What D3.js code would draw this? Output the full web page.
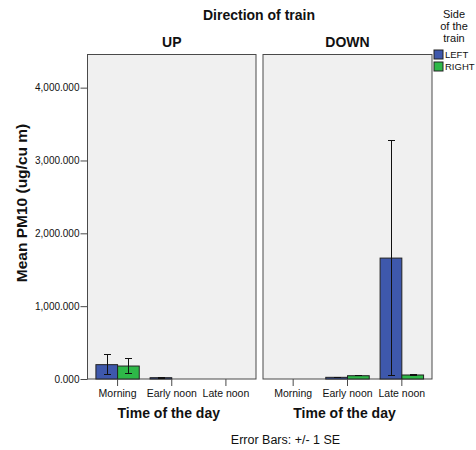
<!DOCTYPE html>
<html>
<head>
<meta charset="utf-8">
<script src="https://cdn.jsdelivr.net/npm/d3@7"></script>
<style>
  body { margin: 0; background: #fff; }
  text { font-family: "Liberation Sans", Arial, sans-serif; fill: #111; }
</style>
</head>
<body>
<svg id="chart" width="476" height="450"></svg>
<script>
// Mean PM10 by time of day, panelled by direction of train, bars by side of train
const directions = ["UP", "DOWN"];
const times = ["Morning", "Early noon", "Late noon"];
const sides = ["LEFT", "RIGHT"];
const sideColors = ["#3e58ac", "#2eb848"];

// means per direction, rows = times, columns = sides (null = no data)
const meanUp   = [[197, 178], [18, null], [null, null]];
const meanDown = [[null, null], [23, 45], [1660, 55]];
// standard errors (error bars are +/- 1 SE)
const seUp   = [[140, 108], [2, null], [null, null]];
const seDown = [[null, null], [3, 4], [1625, 8]];

const yTicks = [0, 1000, 2000, 3000, 4000];

const svg = d3.select("#chart");
const plotTop = 54.5, plotBottom = 379;
const panels = [
  { name: directions[0], x0: 87.5, x1: 256, means: meanUp, ses: seUp },
  { name: directions[1], x0: 263, x1: 432, means: meanDown, ses: seDown }
];

const y = d3.scaleLinear().domain([0, 4455]).range([plotBottom, plotTop]);

// overall title
svg.append("text").attr("x", 259).attr("y", 20).attr("text-anchor", "middle")
  .attr("font-size", 14).attr("font-weight", "bold").text("Direction of train");

panels.forEach(p => {
  const g = svg.append("g");
  g.append("rect").attr("x", p.x0).attr("y", plotTop).attr("width", p.x1 - p.x0)
    .attr("height", plotBottom - plotTop).attr("fill", "#f0f0f0")
    .attr("stroke", "#4a4a4a").attr("stroke-width", 1);

  const x = d3.scaleBand().domain(times).range([p.x0 + 3, p.x1 - 3]).paddingInner(0.2).paddingOuter(0.1);
  const xs = d3.scaleBand().domain(sides).range([0, x.bandwidth()]);

  // panel header
  g.append("text").attr("x", (p.x0 + p.x1) / 2).attr("y", 47).attr("text-anchor", "middle")
    .attr("font-size", 14).attr("font-weight", "bold").text(p.name);

  // bars and error bars
  times.forEach((t, i) => {
    sides.forEach((s, j) => {
      const m = p.means[i][j];
      if (m === null) return;
      const bx = x(t) + xs(s);
      g.append("rect").attr("x", bx).attr("y", y(m)).attr("width", xs.bandwidth())
        .attr("height", plotBottom - y(m)).attr("fill", sideColors[j])
        .attr("stroke", "#222").attr("stroke-width", 1);
      const se = p.ses[i][j];
      // snap the whisker to the pixel grid so it renders as a crisp 1px line
      const cx = Math.round(bx + xs.bandwidth() / 2) + 0.5;
      const hi = Math.round(y(m + se)) + 0.5, lo = Math.round(y(Math.max(0, m - se))) - 0.5;
      g.append("line").attr("x1", cx).attr("x2", cx).attr("y1", hi).attr("y2", lo)
        .attr("stroke", "#111").attr("stroke-width", 1);
      [hi, lo].forEach(yy => g.append("line").attr("x1", cx - 3.5).attr("x2", cx + 3.5)
        .attr("y1", yy).attr("y2", yy).attr("stroke", "#111").attr("stroke-width", 1));
    });
  });

  // x axis
  const xAxis = d3.axisBottom(x).tickSize(7).tickSizeOuter(0).tickPadding(4);
  const ax = g.append("g").attr("transform", `translate(0,${plotBottom})`).call(xAxis);
  ax.select(".domain").remove();
  ax.selectAll(".tick line").attr("stroke", "#4a4a4a");
  ax.selectAll("text").attr("font-size", 10.5).attr("fill", "#111")
    .attr("font-family", "Liberation Sans, Arial, sans-serif");

  g.append("text").attr("x", (p.x0 + p.x1) / 2 - 3).attr("y", 418).attr("text-anchor", "middle")
    .attr("font-size", 14).attr("font-weight", "bold").text("Time of the day");
});

// y axis on the left panel
const yAxis = d3.axisLeft(y).tickValues(yTicks).tickFormat(d3.format(",.3f"))
  .tickSize(7).tickSizeOuter(0).tickPadding(1);
const ay = svg.append("g").attr("transform", `translate(${panels[0].x0},0)`).call(yAxis);
ay.select(".domain").remove();
ay.selectAll(".tick line").attr("stroke", "#4a4a4a");
ay.selectAll("text").attr("font-size", 10).attr("fill", "#111")
  .attr("font-family", "Liberation Sans, Arial, sans-serif");

svg.append("text").attr("transform", "translate(27,203) rotate(-90)").attr("text-anchor", "middle")
  .attr("font-size", 15.5).attr("font-weight", "bold").text("Mean PM10 (ug/cu m)");

// legend
const lg = svg.append("g");
["Side", "of the", "train"].forEach((t, i) =>
  lg.append("text").attr("x", 454).attr("y", 18 + i * 12).attr("text-anchor", "middle")
    .attr("font-size", 11).text(t));
sides.forEach((s, i) => {
  lg.append("rect").attr("x", 434).attr("y", 50 + i * 12).attr("width", 9).attr("height", 9)
    .attr("fill", sideColors[i]).attr("stroke", "#222").attr("stroke-width", 1);
  lg.append("text").attr("x", 445).attr("y", 58 + i * 12).attr("font-size", 9.5).text(s);
});

svg.append("text").attr("x", 285.5).attr("y", 444).attr("text-anchor", "middle")
  .attr("font-size", 12.5).text("Error Bars: +/- 1 SE");
</script>
</body>
</html>
